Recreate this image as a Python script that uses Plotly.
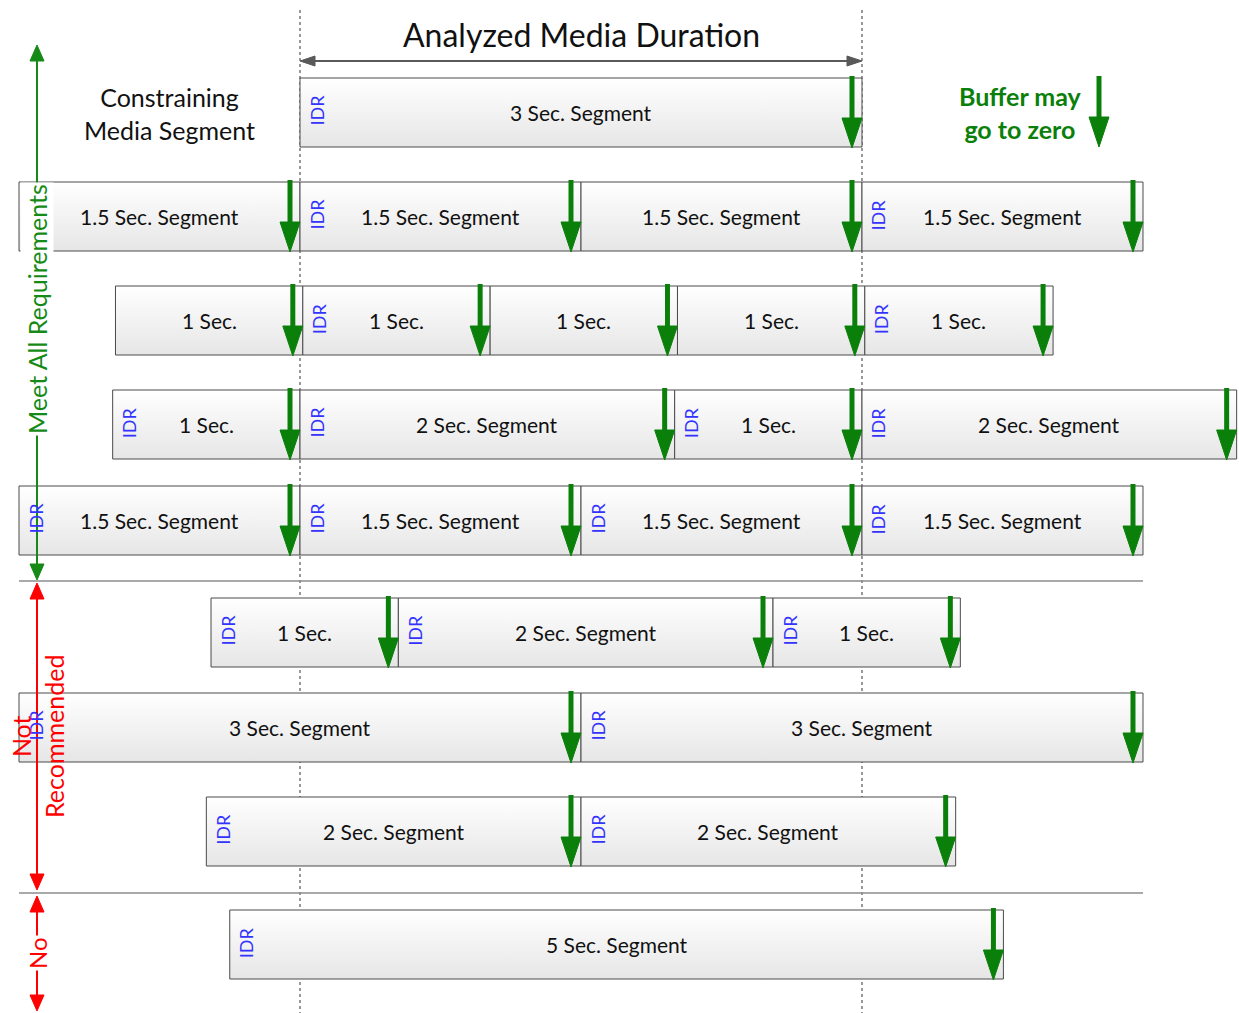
import plotly.graph_objects as go

# ---------------- data ----------------
# Segment rows (time in seconds; 0 and 3 s mark the analyzed media duration)
row_tops = [78, 182, 286, 390, 486, 598, 693, 797, 910]   # row top in diagram units
ROW_H = 69

seg_row = [0,
           1, 1, 1, 1,
           2, 2, 2, 2, 2,
           3, 3, 3, 3,
           4, 4, 4, 4,
           5, 5, 5,
           6, 6,
           7, 7,
           8]
seg_start = [0.0,
             -1.5, 0.0, 1.5, 3.0,
             -0.985, 0.015, 1.015, 2.015, 3.015,
             -1.0, 0.0, 2.0, 3.0,
             -1.5, 0.0, 1.5, 3.0,
             -0.475, 0.525, 2.525,
             -1.5, 1.5,
             -0.5, 1.5,
             -0.375]
seg_end = [3.0,
           0.0, 1.5, 3.0, 4.5,
           0.015, 1.015, 2.015, 3.015, 4.02,
           0.0, 2.0, 3.0, 5.0,
           0.0, 1.5, 3.0, 4.5,
           0.525, 2.525, 3.525,
           1.5, 4.5,
           1.5, 3.5,
           3.755]
seg_label = ["3 Sec. Segment",
             "1.5 Sec. Segment", "1.5 Sec. Segment", "1.5 Sec. Segment", "1.5 Sec. Segment",
             "1 Sec.", "1 Sec.", "1 Sec.", "1 Sec.", "1 Sec.",
             "1 Sec.", "2 Sec. Segment", "1 Sec.", "2 Sec. Segment",
             "1.5 Sec. Segment", "1.5 Sec. Segment", "1.5 Sec. Segment", "1.5 Sec. Segment",
             "1 Sec.", "2 Sec. Segment", "1 Sec.",
             "3 Sec. Segment", "3 Sec. Segment",
             "2 Sec. Segment", "2 Sec. Segment",
             "5 Sec. Segment"]
seg_idr = [True,
           False, True, False, True,
           False, True, False, False, True,
           True, True, True, True,
           True, True, True, True,
           True, True, True,
           True, True,
           True, True,
           True]

analyzed_start, analyzed_end = 0.0, 3.0
group_labels = ["Meet All Requirements", "Not<br>Recommended", "No"]
group_bounds = [(45, 580), (583, 890), (896, 1011)]
group_colors = ["#168a16", "#ff0000", "#ff0000"]
separators_y = [581, 893]

# ---------------- styling / scale ----------------
W, H = 1239, 1013
PX = 187.33          # px per second
ORIGIN = 300         # px of t=0
def sx(px):          # pixel width -> seconds
    return px / PX
x_lo = -ORIGIN / PX
x_hi = (W - ORIGIN) / PX

GREEN = "#0a800a"
FONT = "Lato, 'Open Sans', sans-serif"

fig = go.Figure()
shapes = []
annotations = []

# dashed analyzed-duration lines (behind everything)
for t in (analyzed_start, analyzed_end):
    shapes.append(dict(type="line", x0=t, x1=t, y0=10, y1=H, layer="below",
                       line=dict(color="#333333", width=1, dash="3px,3px")))

# separators
for yy in separators_y:
    shapes.append(dict(type="line", x0=-1.5, x1=4.5, y0=yy, y1=yy, layer="below",
                       line=dict(color="#8c8c8c", width=1.5)))

# boxes
for r, a, b, lab, idr in zip(seg_row, seg_start, seg_end, seg_label, seg_idr):
    top = row_tops[r]
    bot = top + ROW_H
    fig.add_trace(go.Scatter(
        x=[a, b, b, a, a], y=[top, top, bot, bot, top], mode="lines",
        fill="toself", line=dict(color="#4a4a4a", width=1),
        fillgradient=dict(type="vertical", start=top, stop=bot,
                          colorscale=[[0, "#ffffff"], [1, "#e6e6e6"]]),
        hoverinfo="skip", showlegend=False, cliponaxis=False))
    annotations.append(dict(x=(a + b) / 2, y=top + ROW_H / 2, text=lab, showarrow=False,
                            font=dict(family=FONT, size=21, color="#111111")))
    if idr:
        annotations.append(dict(x=a + sx(16), y=top + ROW_H / 2 - 2, text="IDR", showarrow=False,
                                textangle=-90, font=dict(family=FONT, size=18, color="#3333ff")))


def down_arrow(xc, ytop, ybot):
    hw = sx(10)
    head = 30
    fig.add_trace(go.Scatter(x=[xc, xc], y=[ytop, ybot - head + 2], mode="lines",
                             line=dict(color=GREEN, width=5), hoverinfo="skip", showlegend=False))
    fig.add_trace(go.Scatter(x=[xc - hw, xc + hw, xc, xc - hw],
                             y=[ybot - head, ybot - head, ybot, ybot - head],
                             mode="lines", fill="toself", fillcolor=GREEN,
                             line=dict(color=GREEN, width=1), hoverinfo="skip", showlegend=False))


for r, b in zip(seg_row, seg_end):
    top = row_tops[r]
    down_arrow(b - sx(10), top - 2, top + ROW_H + 1)

# Buffer legend arrow
down_arrow(sx(1099 - ORIGIN), 76, 147)
annotations.append(dict(x=sx(1020 - ORIGIN), y=112, text="<b>Buffer may<br>go to zero</b>",
                        showarrow=False, font=dict(family=FONT, size=25, color=GREEN)))

# header
annotations.append(dict(x=(analyzed_start + analyzed_end) / 2, y=34, text="Analyzed Media Duration",
                        showarrow=False, font=dict(family=FONT, size=32, color="#111111")))
hy = 61
hl = sx(15)
fig.add_trace(go.Scatter(x=[analyzed_start + hl * 0.8, analyzed_end - hl * 0.8], y=[hy, hy], mode="lines",
                         line=dict(color="#595959", width=2), hoverinfo="skip", showlegend=False))
for tip, d in ((analyzed_start, 1), (analyzed_end, -1)):
    fig.add_trace(go.Scatter(x=[tip, tip + d * hl, tip + d * hl, tip], y=[hy, hy - 5, hy + 5, hy],
                             mode="lines", fill="toself", fillcolor="#595959",
                             line=dict(color="#595959", width=1), hoverinfo="skip", showlegend=False))

annotations.append(dict(x=sx(169 - ORIGIN), y=113, text="Constraining<br>Media Segment",
                        showarrow=False, font=dict(family=FONT, size=25, color="#111111")))

# left group arrows
gx = sx(37 - ORIGIN)
for (y0, y1), col in zip(group_bounds, group_colors):
    hh = 16
    hw = sx(7)
    fig.add_trace(go.Scatter(x=[gx, gx], y=[y0 + hh - 2, y1 - hh + 2], mode="lines",
                             line=dict(color=col, width=2), hoverinfo="skip", showlegend=False))
    for tip, d in ((y0, 1), (y1, -1)):
        fig.add_trace(go.Scatter(x=[gx - hw, gx + hw, gx, gx - hw],
                                 y=[tip + d * hh, tip + d * hh, tip, tip + d * hh],
                                 mode="lines", fill="toself", fillcolor=col,
                                 line=dict(color=col, width=1), hoverinfo="skip", showlegend=False))

annotations.append(dict(x=gx, y=309, text=group_labels[0], showarrow=False, textangle=-90,
                        bgcolor="white", borderpad=1,
                        font=dict(family=FONT, size=25, color=group_colors[0])))
annotations.append(dict(x=gx, y=737, text=group_labels[1], showarrow=False, textangle=-90,
                        font=dict(family=FONT, size=25, color=group_colors[1])))
annotations.append(dict(x=gx, y=953, text=group_labels[2], showarrow=False, textangle=-90,
                        bgcolor="white", borderpad=1,
                        font=dict(family=FONT, size=24, color=group_colors[2])))

fig.update_layout(
    width=W, height=H, margin=dict(l=0, r=0, t=0, b=0),
    paper_bgcolor="white", plot_bgcolor="white",
    xaxis=dict(range=[x_lo, x_hi], visible=False, fixedrange=True),
    yaxis=dict(range=[H, 0], visible=False, fixedrange=True),
    shapes=shapes, annotations=annotations, showlegend=False,
)
fig.write_html("out.html", config={"displayModeBar": False},
               post_script="document.body.style.margin='0';document.body.style.overflow='hidden';")
